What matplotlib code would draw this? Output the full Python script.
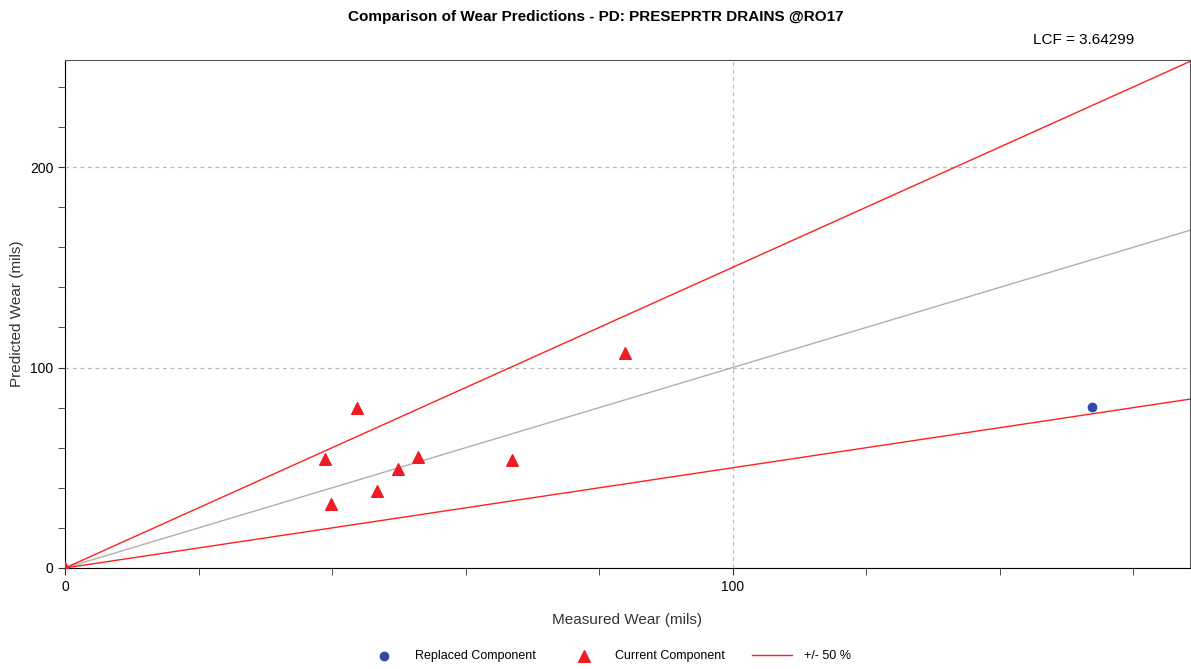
import numpy as np
import matplotlib.pyplot as plt
from matplotlib.ticker import MultipleLocator

plt.rcParams['font.family'] = ['Liberation Sans Narrow', 'Liberation Sans', 'DejaVu Sans']

# data (mils)
replaced_measured = [153.9]
replaced_predicted = [80.3]
current_measured = [0.0, 38.9, 39.9, 43.8, 46.8, 49.9, 52.8, 66.9, 83.9]
current_predicted = [0.0, 54.3, 31.9, 79.8, 38.2, 49.6, 55.6, 53.8, 107.4]
band = 0.5
lcf = 3.64299
x_max = 168.5
y_max = 253.5

fig = plt.figure(figsize=(11.91, 6.69), dpi=100)
ax = fig.add_axes([0.0546, 0.151, 0.9445, 0.7594])

xs = np.array([0, x_max])
ax.plot(xs, xs, color='#b0b0b0', lw=1, zorder=2)
ax.plot(xs, xs * (1 + band), color='#ff2020', lw=1, zorder=2, label='+/- 50 %')
ax.plot(xs, xs * (1 - band), color='#ff2020', lw=1, zorder=2)

ax.scatter(replaced_measured, replaced_predicted, marker='o', s=36, color='#3048a8',
           zorder=3, label='Replaced Component')
ax.scatter(current_measured, current_predicted, marker='^', s=70, color='#ee1c24',
           zorder=3, label='Current Component')

ax.set_xlim(0, x_max)
ax.set_ylim(0, y_max)
ax.xaxis.set_major_locator(MultipleLocator(100))
ax.xaxis.set_minor_locator(MultipleLocator(20))
ax.yaxis.set_major_locator(MultipleLocator(100))
ax.yaxis.set_minor_locator(MultipleLocator(20))
ax.tick_params(which='both', direction='out', length=5, labelsize=10, color='#333333')
ax.grid(True, which='major', color='#bbbbbb', ls=(0, (3, 3)), lw=0.9)
for s in ax.spines.values():
    s.set_color('#555555')
ax.spines['left'].set_color('black')
ax.spines['bottom'].set_color('black')

ax.set_xlabel('Measured Wear (mils)', fontsize=11, color='#333333', labelpad=14)
ax.set_ylabel('Predicted Wear (mils)', fontsize=11, color='#333333', labelpad=4)
fig.text(0.5, 0.974, 'Comparison of Wear Predictions - PD: PRESEPRTR DRAINS @RO17',
         ha='center', va='center', fontsize=11, fontweight='bold')
fig.text(0.952, 0.94, f'LCF = {lcf}', ha='right', va='center', fontsize=11)

h, l = ax.get_legend_handles_labels()
order = [1, 2, 0]
fig.legend([h[i] for i in order], [l[i] for i in order], loc='center',
           bbox_to_anchor=(0.51, 0.019), ncol=3, frameon=False, fontsize=9,
           handlelength=3.2, handletextpad=0.9, columnspacing=2.2)

fig.savefig('out.png', dpi=100)
